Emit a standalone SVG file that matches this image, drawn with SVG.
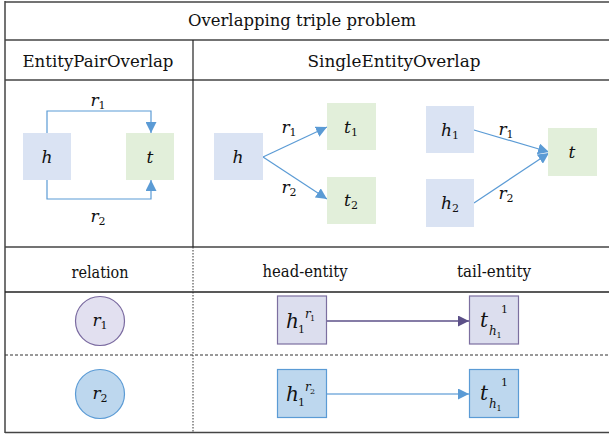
<svg xmlns="http://www.w3.org/2000/svg" width="610" height="434" viewBox="0 0 610 434">
<style>
text{font-family:'DejaVu Serif','Liberation Serif',serif;fill:#111;}
.hd{font-size:17.5px;}
.hb{font-size:16px;}
.it{font-style:italic;font-size:17px;}
.sb{font-size:11px;font-style:normal;}
.si{font-size:12px;font-style:italic;}
.s8{font-size:8px;font-style:normal;}
.grid{stroke:#444;stroke-width:1.5;fill:none;}
.blue{fill:#dae3f3;}
.green{fill:#e2efda;}
.conn{stroke:#5b9bd5;stroke-width:1.2;fill:none;}
</style>
<defs>
<marker id="ab" viewBox="0 0 10 10" refX="10" refY="5" markerWidth="11" markerHeight="11" markerUnits="userSpaceOnUse" orient="auto"><path d="M0,0 L10,5 L0,10 Z" fill="#5b9bd5"/></marker>
<marker id="ap" viewBox="0 0 10 10" refX="10" refY="5" markerWidth="11" markerHeight="11" markerUnits="userSpaceOnUse" orient="auto"><path d="M0,0 L10,5 L0,10 Z" fill="#5c5088"/></marker>
<marker id="al" viewBox="0 0 10 10" refX="10" refY="5" markerWidth="11" markerHeight="11" markerUnits="userSpaceOnUse" orient="auto"><path d="M0,0 L10,5 L0,10 Z" fill="#5b9bd5"/></marker>
</defs>

<g id="table">
<line class="grid" x1="5" y1="2" x2="609" y2="2"/>
<line class="grid" x1="5" y1="1" x2="5" y2="433"/>
<line class="grid" x1="5" y1="40" x2="609" y2="40"/>
<line class="grid" x1="5" y1="80" x2="609" y2="80"/>
<line class="grid" x1="5" y1="247" x2="609" y2="247"/>
<line class="grid" x1="5" y1="292" x2="609" y2="292" style="stroke:#222"/>
<line x1="5" y1="355" x2="609" y2="355" stroke="#333" stroke-width="1" stroke-dasharray="3,2"/>
<line class="grid" x1="5" y1="432.5" x2="609" y2="432.5"/>
<line x1="193" y1="40" x2="193" y2="247" stroke="#222" stroke-width="1.2"/>
<line x1="193" y1="247" x2="193" y2="433" stroke="#333" stroke-width="1" stroke-dasharray="1.5,1.5"/>
<text class="hd" x="302" y="26" text-anchor="middle" textLength="228" lengthAdjust="spacingAndGlyphs">Overlapping triple problem</text>
<text class="hd" x="98" y="67" text-anchor="middle" textLength="151" lengthAdjust="spacingAndGlyphs">EntityPairOverlap</text>
<text class="hd" x="394" y="67" text-anchor="middle" textLength="173" lengthAdjust="spacingAndGlyphs">SingleEntityOverlap</text>
<text class="hb" x="100" y="278" text-anchor="middle" textLength="57" lengthAdjust="spacingAndGlyphs">relation</text>
<text class="hb" x="305" y="277" text-anchor="middle" textLength="85" lengthAdjust="spacingAndGlyphs">head-entity</text>
<text class="hb" x="494" y="277" text-anchor="middle" textLength="74" lengthAdjust="spacingAndGlyphs">tail-entity</text>
</g>

<g id="connectors">
<path class="conn" d="M47,133 V111 H151 V133" marker-end="url(#ab)"/>
<path class="conn" d="M47,180 V199 H151 V180" marker-end="url(#ab)"/>
<line class="conn" x1="263" y1="157" x2="327" y2="127" marker-end="url(#ab)"/>
<line class="conn" x1="263" y1="157" x2="327" y2="199" marker-end="url(#ab)"/>
<line class="conn" x1="474" y1="130" x2="549" y2="152" marker-end="url(#ab)"/>
<line class="conn" x1="474" y1="203" x2="549" y2="153" marker-end="url(#ab)"/>
<line x1="327" y1="321" x2="469" y2="321" stroke="#5c5088" stroke-width="1.3" marker-end="url(#ap)"/>
<line x1="327" y1="394" x2="469" y2="394" stroke="#9dc3e6" stroke-width="2" marker-end="url(#al)"/>
<text class="it" x="98" y="106" text-anchor="middle">r<tspan class="sb" dy="3">1</tspan></text>
<text class="it" x="98" y="222" text-anchor="middle">r<tspan class="sb" dy="3">2</tspan></text>
<text class="it" x="289" y="133" text-anchor="middle">r<tspan class="sb" dy="3">1</tspan></text>
<text class="it" x="289" y="193" text-anchor="middle">r<tspan class="sb" dy="3">2</tspan></text>
<text class="it" x="506" y="135" text-anchor="middle">r<tspan class="sb" dy="3">1</tspan></text>
<text class="it" x="506" y="199" text-anchor="middle">r<tspan class="sb" dy="3">2</tspan></text>
</g>

<g id="n-h-pair"><rect class="blue" x="23" y="133" width="48" height="47"/><text class="it" x="47" y="163" text-anchor="middle">h</text></g>
<g id="n-t-pair"><rect class="green" x="126" y="133" width="48" height="47"/><text class="it" x="150" y="163" text-anchor="middle">t</text></g>

<g id="n-h-single"><rect class="blue" x="214" y="133" width="49" height="47"/><text class="it" x="238" y="163" text-anchor="middle">h</text></g>
<g id="n-t1"><rect class="green" x="327" y="103" width="49" height="47"/><text class="it" x="351" y="133" text-anchor="middle">t<tspan class="sb" dy="3">1</tspan></text></g>
<g id="n-t2"><rect class="green" x="327" y="177" width="49" height="47"/><text class="it" x="351" y="206" text-anchor="middle">t<tspan class="sb" dy="3">2</tspan></text></g>

<g id="n-h1"><rect class="blue" x="426" y="106" width="48" height="47"/><text class="it" x="450" y="136" text-anchor="middle">h<tspan class="sb" dy="3">1</tspan></text></g>
<g id="n-h2"><rect class="blue" x="426" y="179" width="48" height="48"/><text class="it" x="450" y="209" text-anchor="middle">h<tspan class="sb" dy="3">2</tspan></text></g>
<g id="n-t-single"><rect class="green" x="548" y="128" width="49" height="48"/><text class="it" x="572" y="158" text-anchor="middle">t</text></g>

<g id="n-r1"><circle cx="100" cy="321" r="24.5" fill="#e2e0f0" stroke="#7a6aa0" stroke-width="1.2"/><text class="it" x="100" y="326" text-anchor="middle">r<tspan class="sb" dy="3">1</tspan></text></g>
<g id="n-r2"><circle cx="100" cy="394" r="24.5" fill="#bdd7ee" stroke="#5b9bd5" stroke-width="1.2"/><text class="it" x="100" y="399" text-anchor="middle">r<tspan class="sb" dy="3">2</tspan></text></g>

<g id="n-h-r1"><rect x="277.5" y="296" width="49" height="48" fill="#dcdeee" stroke="#7c6fa0" stroke-width="1.2"/>
<text class="it" x="286" y="328" style="font-size:20px">h</text><text class="sb" x="298" y="333">1</text><text class="si" x="305" y="318">r</text><text class="s8" x="310" y="321">1</text></g>
<g id="n-t-r1"><rect x="469.5" y="296" width="49" height="48" fill="#dcdeee" stroke="#7c6fa0" stroke-width="1.2"/>
<text class="it" x="480" y="327" style="font-size:20px">t</text><text class="si" x="489" y="335">h</text><text class="s8" x="496.5" y="338">1</text><text class="sb" x="501" y="313">1</text></g>

<g id="n-h-r2"><rect x="277.5" y="369.5" width="49" height="48" fill="#bdd7ee" stroke="#5b9bd5" stroke-width="1.2"/>
<text class="it" x="286" y="401" style="font-size:20px">h</text><text class="sb" x="298" y="406">1</text><text class="si" x="305" y="391">r</text><text class="s8" x="310" y="394">2</text></g>
<g id="n-t-r2"><rect x="469.5" y="369.5" width="49" height="48" fill="#bdd7ee" stroke="#5b9bd5" stroke-width="1.2"/>
<text class="it" x="480" y="400" style="font-size:20px">t</text><text class="si" x="489" y="408">h</text><text class="s8" x="496.5" y="411">1</text><text class="sb" x="501" y="386">1</text></g>
</svg>
